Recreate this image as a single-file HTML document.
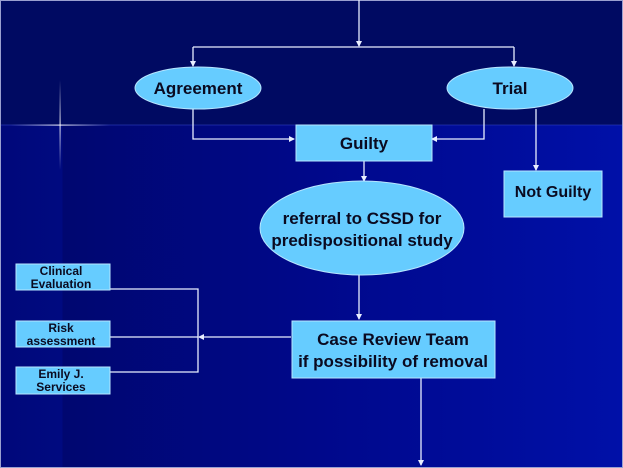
<!DOCTYPE html>
<html><head><style>
html,body{margin:0;padding:0;width:623px;height:468px;overflow:hidden;background:#000b66}
svg{display:block}
text{font-family:"Liberation Sans",Arial,sans-serif;font-weight:bold;fill:#0a0a20;text-anchor:middle}
</style></head><body>
<svg width="623" height="468" viewBox="0 0 623 468" xmlns="http://www.w3.org/2000/svg">
<defs>
<linearGradient id="bg" x1="0" y1="0" x2="1" y2="0">
<stop offset="0" stop-color="#00087a"/><stop offset="0.1" stop-color="#000a80"/><stop offset="0.1" stop-color="#000770"/><stop offset="0.5" stop-color="#00088a"/><stop offset="1" stop-color="#0010a8"/>
</linearGradient>
<linearGradient id="hf" x1="0" y1="0" x2="1" y2="0">
<stop offset="0" stop-color="#fff" stop-opacity="0"/><stop offset="0.5" stop-color="#fff"/><stop offset="1" stop-color="#fff" stop-opacity="0"/></linearGradient>
<linearGradient id="vf" x1="0" y1="0" x2="0" y2="1">
<stop offset="0" stop-color="#fff" stop-opacity="0"/><stop offset="0.5" stop-color="#fff"/><stop offset="1" stop-color="#fff" stop-opacity="0"/></linearGradient>
<marker id="a" markerWidth="6" markerHeight="6" refX="5" refY="3" orient="auto" markerUnits="userSpaceOnUse"><path d="M0,0L6,3L0,6z" fill="#e8eeff"/></marker>
</defs>
<rect width="623" height="468" fill="url(#bg)"/>
<rect width="623" height="125" fill="#000a62"/>
<rect x="0" y="124.5" width="623" height="1" fill="#3040c0" opacity="0.6"/>
<rect x="10" y="124.5" width="100" height="1.2" fill="url(#hf)" opacity="0.8"/>
<rect x="59.5" y="80" width="1.2" height="90" fill="url(#vf)" opacity="0.8"/>
<rect x="0.5" y="0.5" width="622" height="467" fill="none" stroke="#9aa0d0" stroke-width="1"/>
<g stroke="#e8eeff" stroke-width="1.3" fill="none">
<path d="M359,0V46" marker-end="url(#a)"/>
<path d="M193,47H514"/>
<path d="M193,47V66" marker-end="url(#a)"/>
<path d="M514,47V66" marker-end="url(#a)"/>
<path d="M193,109V139H294" marker-end="url(#a)"/>
<path d="M484,109V139H432" marker-end="url(#a)"/>
<path d="M536,109V170" marker-end="url(#a)"/>
<path d="M364,161V181" marker-end="url(#a)"/>
<path d="M359,275V319" marker-end="url(#a)"/>
<path d="M291,337H199" marker-end="url(#a)"/>
<path d="M110,289H198V372H110"/>
<path d="M110,337H198"/>
<path d="M421,378V465" marker-end="url(#a)"/>
</g>
<g fill="#66ccff" stroke="#b8e6ff" stroke-width="1">
<ellipse cx="198" cy="88" rx="63" ry="21"/>
<ellipse cx="510" cy="88" rx="63" ry="21"/>
<rect x="296" y="125" width="136" height="36"/>
<rect x="504" y="171" width="98" height="46"/>
<ellipse cx="362" cy="228" rx="102" ry="47"/>
<rect x="292" y="321" width="203" height="57"/>
<rect x="16" y="264" width="94" height="26"/>
<rect x="16" y="321" width="94" height="26"/>
<rect x="16" y="367" width="94" height="27"/>
</g>
<text x="198" y="94" font-size="17">Agreement</text>
<text x="510" y="94" font-size="17">Trial</text>
<text x="364" y="149" font-size="17">Guilty</text>
<text x="553" y="197" font-size="16">Not Guilty</text>
<text x="362" y="224" font-size="17">referral to CSSD for</text>
<text x="362" y="246" font-size="17">predispositional study</text>
<text x="393" y="345" font-size="17">Case Review Team</text>
<text x="393" y="367" font-size="17">if possibility of removal</text>
<g font-size="12">
<text x="61" y="275">Clinical</text>
<text x="61" y="288">Evaluation</text>
<text x="61" y="332">Risk</text>
<text x="61" y="345">assessment</text>
<text x="61" y="378">Emily J.</text>
<text x="61" y="391">Services</text>
</g>
</svg>
</body></html>
